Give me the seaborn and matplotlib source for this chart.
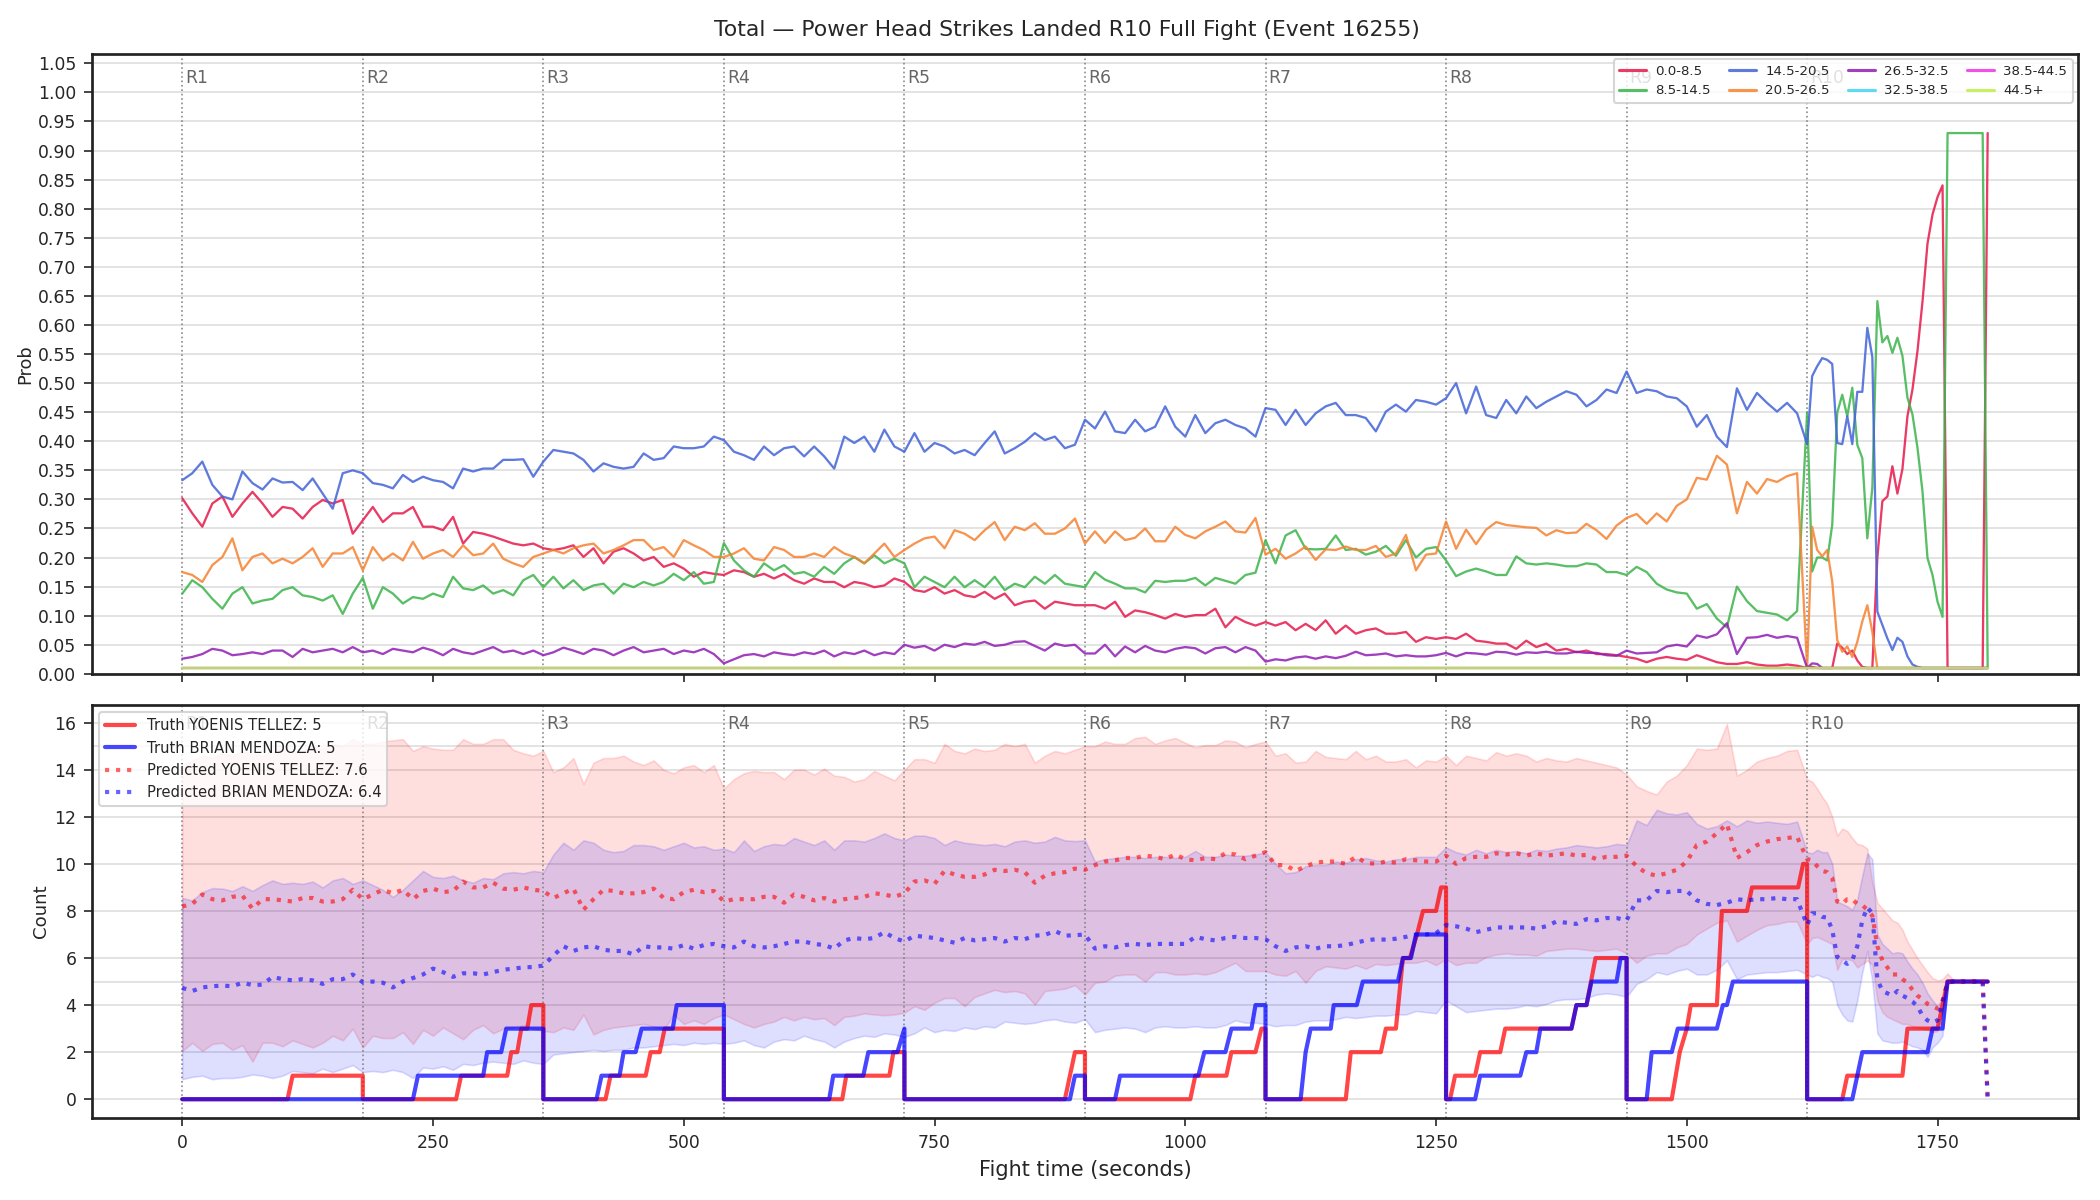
import matplotlib
matplotlib.use("Agg")
import matplotlib.pyplot as plt
import matplotlib.transforms as mtransforms
from matplotlib.lines import Line2D
import pandas as pd
import seaborn as sns

# sample times: every 10 s in rounds 1-9, every 5 s in round 10
t = list(range(0, 1620, 10)) + list(range(1620, 1801, 5))
t_flat = [0, 1800]
round_starts = [0, 180, 360, 540, 720, 900, 1080, 1260, 1440, 1620]

bins = ['0.0-8.5', '8.5-14.5', '14.5-20.5', '20.5-26.5',
        '26.5-32.5', '32.5-38.5', '38.5-44.5', '44.5+']
bin_colors = ['#e6194b', '#3cb44b', '#4363d8', '#f58231',
              '#911eb4', '#42d4f4', '#f032e6', '#bfef45']

# ---- top panel: probability of each bin over the fight ----
p_0_8 = [
    0.302, 0.276, 0.253, 0.293, 0.305, 0.270, 0.293, 0.313, 0.293, 0.270, 0.287, 0.284, 0.267, 0.287, 0.299, 0.293, 0.299, 0.241,
    0.264, 0.287, 0.261, 0.276, 0.276, 0.287, 0.253, 0.253, 0.247, 0.270, 0.224, 0.244, 0.241, 0.236, 0.230, 0.224, 0.221, 0.224,
    0.216, 0.213, 0.216, 0.221, 0.201, 0.216, 0.190, 0.210, 0.216, 0.207, 0.195, 0.201, 0.184, 0.190, 0.181, 0.167, 0.175, 0.172,
    0.170, 0.178, 0.175, 0.167, 0.172, 0.164, 0.172, 0.161, 0.155, 0.164, 0.158, 0.158, 0.149, 0.158, 0.155, 0.149, 0.152, 0.164,
    0.158, 0.144, 0.141, 0.149, 0.138, 0.144, 0.135, 0.132, 0.141, 0.129, 0.138, 0.118, 0.124, 0.126, 0.112, 0.124, 0.121, 0.118,
    0.118, 0.118, 0.112, 0.124, 0.098, 0.109, 0.106, 0.101, 0.095, 0.103, 0.098, 0.101, 0.101, 0.112, 0.080, 0.098, 0.089, 0.083,
    0.089, 0.083, 0.089, 0.075, 0.086, 0.075, 0.092, 0.069, 0.083, 0.069, 0.075, 0.078, 0.069, 0.069, 0.072, 0.055, 0.063, 0.060,
    0.063, 0.060, 0.069, 0.057, 0.055, 0.052, 0.052, 0.043, 0.057, 0.046, 0.052, 0.040, 0.043, 0.037, 0.040, 0.034, 0.034, 0.032,
    0.029, 0.026, 0.020, 0.026, 0.029, 0.026, 0.024, 0.032, 0.026, 0.020, 0.017, 0.017, 0.020, 0.016, 0.014, 0.014, 0.016, 0.014,
    0.010, 0.012, 0.010, 0.010, 0.010, 0.010, 0.052, 0.045, 0.034, 0.040, 0.023, 0.012, 0.010, 0.010, 0.200, 0.297, 0.305, 0.357,
    0.310, 0.352, 0.443, 0.489, 0.555, 0.640, 0.740, 0.790, 0.820, 0.840, 0.010, 0.010, 0.010, 0.010, 0.010, 0.010, 0.010, 0.010, 0.930,
]
p_8_14 = [
    0.138, 0.161, 0.149, 0.129, 0.112, 0.138, 0.149, 0.121, 0.126, 0.129, 0.144, 0.149, 0.135, 0.132, 0.126, 0.135, 0.103, 0.138,
    0.165, 0.112, 0.149, 0.138, 0.121, 0.132, 0.129, 0.138, 0.132, 0.167, 0.147, 0.144, 0.152, 0.138, 0.144, 0.135, 0.161, 0.170,
    0.149, 0.167, 0.147, 0.161, 0.144, 0.152, 0.155, 0.138, 0.155, 0.149, 0.158, 0.152, 0.158, 0.172, 0.161, 0.175, 0.155, 0.158,
    0.225, 0.195, 0.178, 0.167, 0.190, 0.178, 0.187, 0.172, 0.175, 0.167, 0.184, 0.172, 0.190, 0.201, 0.190, 0.204, 0.190, 0.198,
    0.190, 0.149, 0.167, 0.158, 0.149, 0.167, 0.149, 0.161, 0.149, 0.167, 0.144, 0.155, 0.149, 0.167, 0.155, 0.170, 0.155, 0.152,
    0.149, 0.175, 0.162, 0.155, 0.147, 0.147, 0.140, 0.160, 0.158, 0.160, 0.160, 0.165, 0.152, 0.165, 0.160, 0.155, 0.170, 0.174,
    0.230, 0.190, 0.238, 0.247, 0.215, 0.214, 0.215, 0.238, 0.213, 0.215, 0.205, 0.210, 0.220, 0.203, 0.230, 0.200, 0.215, 0.218,
    0.195, 0.168, 0.176, 0.181, 0.176, 0.170, 0.170, 0.202, 0.190, 0.188, 0.190, 0.188, 0.185, 0.185, 0.190, 0.188, 0.175, 0.175,
    0.170, 0.184, 0.175, 0.155, 0.145, 0.140, 0.138, 0.112, 0.120, 0.095, 0.080, 0.150, 0.125, 0.108, 0.105, 0.102, 0.092, 0.108,
    0.450, 0.176, 0.200, 0.200, 0.195, 0.256, 0.449, 0.480, 0.443, 0.492, 0.394, 0.371, 0.233, 0.320, 0.641, 0.570, 0.581, 0.552,
    0.578, 0.547, 0.475, 0.446, 0.389, 0.314, 0.199, 0.170, 0.124, 0.098, 0.930, 0.930, 0.930, 0.930, 0.930, 0.930, 0.930, 0.930, 0.010,
]
p_14_20 = [
    0.333, 0.345, 0.365, 0.325, 0.305, 0.300, 0.348, 0.328, 0.317, 0.336, 0.329, 0.330, 0.316, 0.336, 0.310, 0.284, 0.345, 0.350,
    0.345, 0.328, 0.325, 0.319, 0.342, 0.330, 0.339, 0.333, 0.330, 0.319, 0.353, 0.348, 0.353, 0.353, 0.368, 0.368, 0.369, 0.339,
    0.365, 0.385, 0.382, 0.379, 0.368, 0.348, 0.362, 0.356, 0.353, 0.356, 0.379, 0.368, 0.371, 0.391, 0.388, 0.388, 0.391, 0.408,
    0.402, 0.382, 0.376, 0.368, 0.391, 0.376, 0.388, 0.391, 0.374, 0.391, 0.374, 0.353, 0.408, 0.397, 0.408, 0.382, 0.420, 0.391,
    0.382, 0.414, 0.382, 0.397, 0.391, 0.379, 0.385, 0.376, 0.397, 0.417, 0.379, 0.388, 0.399, 0.414, 0.402, 0.408, 0.388, 0.394,
    0.437, 0.422, 0.451, 0.417, 0.414, 0.437, 0.417, 0.425, 0.460, 0.425, 0.408, 0.445, 0.414, 0.431, 0.437, 0.428, 0.422, 0.408,
    0.457, 0.454, 0.428, 0.454, 0.428, 0.448, 0.460, 0.466, 0.445, 0.445, 0.440, 0.417, 0.451, 0.463, 0.451, 0.471, 0.468, 0.463,
    0.474, 0.500, 0.448, 0.494, 0.445, 0.440, 0.471, 0.448, 0.477, 0.457, 0.468, 0.477, 0.486, 0.480, 0.460, 0.471, 0.489, 0.483,
    0.520, 0.483, 0.489, 0.486, 0.477, 0.474, 0.460, 0.425, 0.445, 0.408, 0.390, 0.491, 0.454, 0.483, 0.466, 0.451, 0.466, 0.448,
    0.395, 0.512, 0.529, 0.543, 0.540, 0.533, 0.397, 0.395, 0.443, 0.395, 0.485, 0.485, 0.595, 0.545, 0.107, 0.084, 0.061, 0.041,
    0.062, 0.055, 0.030, 0.016, 0.012, 0.010, 0.010, 0.010, 0.010, 0.010, 0.010, 0.010, 0.010, 0.010, 0.010, 0.010, 0.010, 0.010, 0.010,
]
p_20_26 = [
    0.175, 0.170, 0.158, 0.187, 0.201, 0.233, 0.178, 0.201, 0.207, 0.190, 0.198, 0.190, 0.201, 0.216, 0.184, 0.207, 0.207, 0.218,
    0.178, 0.218, 0.195, 0.207, 0.195, 0.227, 0.198, 0.207, 0.213, 0.201, 0.221, 0.204, 0.207, 0.224, 0.198, 0.190, 0.184, 0.201,
    0.207, 0.213, 0.207, 0.216, 0.221, 0.224, 0.207, 0.213, 0.221, 0.230, 0.230, 0.213, 0.218, 0.201, 0.230, 0.221, 0.213, 0.201,
    0.201, 0.207, 0.216, 0.198, 0.195, 0.218, 0.213, 0.201, 0.201, 0.207, 0.201, 0.218, 0.207, 0.201, 0.190, 0.207, 0.224, 0.201,
    0.213, 0.224, 0.233, 0.236, 0.216, 0.247, 0.241, 0.230, 0.247, 0.261, 0.230, 0.253, 0.247, 0.259, 0.241, 0.241, 0.250, 0.267,
    0.224, 0.245, 0.225, 0.245, 0.230, 0.234, 0.250, 0.228, 0.228, 0.253, 0.239, 0.233, 0.245, 0.253, 0.262, 0.245, 0.243, 0.268,
    0.205, 0.215, 0.198, 0.207, 0.219, 0.196, 0.214, 0.213, 0.219, 0.213, 0.213, 0.220, 0.201, 0.207, 0.239, 0.178, 0.205, 0.207,
    0.262, 0.215, 0.248, 0.223, 0.248, 0.261, 0.256, 0.254, 0.252, 0.251, 0.238, 0.247, 0.242, 0.243, 0.258, 0.247, 0.232, 0.255,
    0.268, 0.275, 0.258, 0.276, 0.262, 0.289, 0.300, 0.337, 0.334, 0.375, 0.360, 0.276, 0.330, 0.310, 0.335, 0.330, 0.340, 0.345,
    0.010, 0.253, 0.213, 0.202, 0.213, 0.159, 0.058, 0.038, 0.047, 0.029, 0.055, 0.090, 0.118, 0.072, 0.010, 0.010, 0.010, 0.010,
    0.010, 0.010, 0.010, 0.010, 0.010, 0.010, 0.010, 0.010, 0.010, 0.010, 0.010, 0.010, 0.010, 0.010, 0.010, 0.010, 0.010, 0.010, 0.010,
]
p_26_32 = [
    0.026, 0.029, 0.034, 0.043, 0.040, 0.032, 0.034, 0.037, 0.034, 0.040, 0.040, 0.029, 0.043, 0.037, 0.040, 0.043, 0.037, 0.046,
    0.037, 0.040, 0.034, 0.043, 0.040, 0.037, 0.045, 0.040, 0.032, 0.043, 0.037, 0.034, 0.040, 0.046, 0.037, 0.040, 0.034, 0.040,
    0.032, 0.037, 0.045, 0.040, 0.034, 0.043, 0.040, 0.032, 0.040, 0.046, 0.037, 0.040, 0.043, 0.034, 0.040, 0.037, 0.043, 0.034,
    0.018, 0.025, 0.032, 0.034, 0.030, 0.037, 0.034, 0.032, 0.037, 0.034, 0.040, 0.030, 0.037, 0.034, 0.040, 0.032, 0.037, 0.034,
    0.050, 0.045, 0.048, 0.040, 0.050, 0.046, 0.052, 0.050, 0.055, 0.048, 0.050, 0.055, 0.056, 0.048, 0.040, 0.052, 0.048, 0.050,
    0.035, 0.035, 0.050, 0.030, 0.047, 0.037, 0.048, 0.040, 0.037, 0.043, 0.046, 0.044, 0.035, 0.044, 0.046, 0.037, 0.046, 0.040,
    0.021, 0.025, 0.023, 0.028, 0.030, 0.026, 0.030, 0.027, 0.031, 0.038, 0.032, 0.033, 0.035, 0.030, 0.032, 0.030, 0.030, 0.032,
    0.036, 0.030, 0.036, 0.035, 0.033, 0.038, 0.037, 0.033, 0.037, 0.036, 0.038, 0.035, 0.035, 0.038, 0.036, 0.036, 0.032, 0.031,
    0.040, 0.035, 0.036, 0.037, 0.047, 0.050, 0.047, 0.066, 0.062, 0.068, 0.087, 0.034, 0.062, 0.063, 0.067, 0.062, 0.065, 0.062,
    0.010, 0.018, 0.017, 0.010, 0.010, 0.010, 0.010, 0.010, 0.010, 0.010, 0.010, 0.010, 0.010, 0.010, 0.010, 0.010, 0.010, 0.010,
    0.010, 0.010, 0.010, 0.010, 0.010, 0.010, 0.010, 0.010, 0.010, 0.010, 0.010, 0.010, 0.010, 0.010, 0.010, 0.010, 0.010, 0.010, 0.010,
]
# the three highest bins stay flat near zero for the whole fight
p_32_38 = [0.010, 0.010]
p_38_44 = [0.010, 0.010]
p_44_up = [0.010, 0.010]

# ---- bottom panel: predicted counts with bands, and the truth ----
pred_yoenis = [
    8.19, 8.30, 8.70, 8.50, 8.45, 8.60, 8.65, 8.10, 8.50, 8.50, 8.45, 8.40, 8.55, 8.55, 8.40, 8.40, 8.50, 8.90,
    8.50, 8.70, 8.90, 8.75, 8.90, 8.50, 8.85, 8.95, 8.80, 8.85, 9.25, 9.00, 9.00, 9.20, 8.95, 8.90, 9.00, 8.90,
    8.85, 8.55, 8.75, 8.95, 8.05, 8.50, 8.90, 8.85, 8.75, 8.75, 8.80, 8.95, 8.55, 8.50, 8.80, 8.90, 8.80, 8.85,
    8.40, 8.50, 8.50, 8.50, 8.60, 8.60, 8.35, 8.70, 8.60, 8.45, 8.55, 8.40, 8.50, 8.55, 8.60, 8.75, 8.70, 8.60,
    8.75, 9.25, 9.30, 9.15, 9.70, 9.55, 9.45, 9.45, 9.55, 9.75, 9.70, 9.75, 9.65, 9.20, 9.50, 9.60, 9.65, 9.80,
    9.75, 9.95, 10.10, 10.15, 10.25, 10.25, 10.35, 10.30, 10.20, 10.40, 10.20, 10.15, 10.25, 10.20, 10.45, 10.40, 10.20, 10.35,
    10.50, 9.95, 9.95, 9.70, 9.90, 10.05, 10.10, 10.10, 10.00, 10.30, 10.05, 10.00, 10.10, 10.05, 10.20, 10.15, 10.10, 10.10,
    10.35, 10.00, 10.25, 10.30, 10.30, 10.45, 10.40, 10.45, 10.35, 10.45, 10.35, 10.40, 10.45, 10.35, 10.38, 10.20, 10.30, 10.30,
    10.35, 9.90, 9.60, 9.50, 9.60, 9.75, 10.10, 10.80, 10.95, 11.30, 11.70, 10.25, 10.50, 10.80, 10.95, 11.05, 11.10, 11.15,
    10.20, 10.15, 9.90, 9.70, 9.65, 9.40, 8.40, 8.30, 8.50, 8.50, 8.30, 8.25, 8.05, 7.80, 6.50, 5.90, 5.60, 5.30,
    5.30, 5.10, 4.95, 4.65, 4.40, 4.25, 4.05, 3.95, 3.85, 4.20, 4.97, 5.00, 5.00, 5.00, 5.00, 5.00, 5.00, 5.00, 0.00,
]
pred_brian = [
    4.73, 4.60, 4.75, 4.80, 4.83, 4.80, 4.95, 4.85, 4.87, 5.20, 5.10, 5.05, 5.10, 5.05, 4.90, 5.10, 5.10, 5.30,
    4.97, 5.00, 4.95, 4.75, 5.00, 5.15, 5.30, 5.55, 5.40, 5.20, 5.35, 5.35, 5.30, 5.40, 5.50, 5.55, 5.60, 5.62,
    5.68, 6.10, 6.50, 6.30, 6.45, 6.50, 6.35, 6.30, 6.30, 6.15, 6.50, 6.45, 6.45, 6.40, 6.55, 6.40, 6.55, 6.60,
    6.50, 6.45, 6.70, 6.50, 6.45, 6.50, 6.60, 6.70, 6.70, 6.60, 6.55, 6.40, 6.75, 6.85, 6.80, 6.85, 7.10, 6.85,
    6.70, 6.95, 6.90, 6.85, 6.75, 6.65, 6.85, 6.75, 6.80, 6.85, 6.70, 6.85, 6.80, 6.95, 6.98, 7.15, 6.95, 6.97,
    7.00, 6.40, 6.50, 6.45, 6.55, 6.60, 6.55, 6.60, 6.60, 6.60, 6.60, 6.90, 6.80, 6.75, 6.85, 6.90, 6.85, 6.85,
    6.80, 6.50, 6.30, 6.45, 6.50, 6.40, 6.50, 6.50, 6.55, 6.65, 6.75, 6.80, 6.78, 6.82, 6.90, 7.00, 7.00, 7.05,
    7.40, 7.35, 7.25, 7.10, 7.20, 7.30, 7.30, 7.30, 7.30, 7.25, 7.35, 7.55, 7.50, 7.45, 7.65, 7.60, 7.70, 7.70,
    7.60, 8.45, 8.45, 8.85, 8.80, 8.85, 8.85, 8.45, 8.30, 8.25, 8.35, 8.50, 8.45, 8.50, 8.50, 8.55, 8.50, 8.50,
    7.40, 7.90, 7.90, 7.75, 7.72, 7.20, 6.05, 5.90, 5.75, 5.90, 6.50, 7.60, 8.15, 7.90, 5.10, 4.60, 4.50, 4.40,
    4.60, 4.40, 4.30, 4.15, 3.95, 3.55, 3.35, 3.25, 3.35, 4.10, 4.95, 5.00, 5.00, 5.00, 5.00, 5.00, 5.00, 5.00, 0.00,
]
hi_yoenis = [
    14.20, 14.40, 14.60, 14.50, 14.70, 14.60, 14.80, 14.70, 14.60, 14.80, 14.90, 14.70, 14.80, 15.00, 14.90, 15.10, 15.00, 15.30,
    15.10, 15.10, 15.20, 15.25, 15.30, 14.80, 15.00, 14.90, 14.85, 14.85, 15.30, 15.10, 15.10, 15.30, 15.30, 14.85, 14.70, 14.60,
    14.80, 13.90, 14.10, 14.50, 13.40, 14.30, 14.50, 14.50, 14.60, 14.35, 14.20, 14.40, 14.00, 13.85, 14.10, 14.20, 13.90, 14.20,
    13.20, 13.60, 13.85, 13.95, 13.90, 13.90, 13.60, 14.00, 14.00, 13.80, 14.05, 13.75, 13.70, 13.50, 13.60, 13.95, 13.75, 13.55,
    14.00, 14.45, 14.45, 14.30, 15.10, 14.80, 14.70, 14.90, 14.80, 14.85, 15.10, 15.00, 15.10, 14.30, 14.60, 14.80, 14.70, 14.85,
    15.00, 15.00, 15.20, 15.10, 15.10, 15.35, 15.40, 15.10, 15.25, 15.35, 15.15, 14.95, 15.05, 15.05, 15.25, 15.20, 14.95, 15.10,
    15.20, 14.60, 14.70, 14.30, 14.35, 14.80, 14.55, 14.50, 14.45, 14.80, 14.45, 14.60, 14.35, 14.35, 14.45, 14.10, 14.40, 14.35,
    14.60, 14.20, 14.60, 14.50, 14.40, 14.75, 14.60, 14.70, 14.60, 14.35, 14.50, 14.40, 14.35, 14.50, 14.40, 14.30, 14.20, 14.10,
    13.80, 13.30, 13.10, 12.95, 13.50, 13.75, 14.20, 14.90, 14.85, 14.90, 15.95, 13.75, 14.00, 14.35, 14.50, 14.60, 14.80, 14.85,
    13.60, 13.50, 13.20, 12.85, 12.55, 12.00, 11.20, 11.50, 11.40, 11.10, 10.85, 10.80, 10.65, 9.20, 8.35, 8.10, 7.85, 7.60,
    7.50, 7.20, 6.70, 6.35, 6.00, 5.70, 5.40, 5.15, 5.05, 5.10, 5.35, 5.10, 5.05, 5.02, 5.00, 5.00, 5.00, 5.00, 5.00,
]
lo_yoenis = [
    2.05, 2.40, 2.05, 2.35, 2.40, 2.10, 2.30, 1.60, 2.40, 2.40, 2.25, 2.50, 2.35, 2.20, 2.40, 2.70, 2.50, 3.00,
    2.20, 2.70, 2.60, 2.60, 2.85, 2.35, 2.95, 2.70, 3.05, 2.80, 2.55, 2.95, 3.15, 2.80, 3.00, 3.05, 3.15, 3.00,
    2.90, 2.85, 3.05, 2.95, 3.60, 2.75, 2.95, 3.05, 3.10, 3.15, 3.20, 3.10, 2.95, 3.60, 3.20, 3.35, 3.20, 3.45,
    3.60, 3.40, 3.20, 3.05, 3.20, 3.30, 3.50, 3.35, 3.50, 3.40, 3.45, 3.15, 3.50, 3.55, 3.65, 3.60, 3.57, 3.60,
    3.68, 3.95, 3.80, 4.10, 4.30, 4.30, 3.95, 4.35, 4.50, 4.65, 4.55, 4.60, 4.50, 4.02, 4.60, 4.65, 4.70, 4.85,
    4.45, 4.95, 5.00, 5.25, 5.30, 5.30, 5.00, 5.40, 5.40, 5.30, 5.30, 5.35, 5.30, 5.40, 5.60, 5.80, 5.45, 5.45,
    5.45, 5.30, 5.25, 5.45, 4.95, 5.45, 5.65, 5.60, 5.55, 5.70, 5.55, 5.75, 5.70, 5.75, 5.80, 5.80, 5.90, 5.70,
    5.95, 5.70, 5.80, 5.80, 6.05, 6.15, 6.20, 6.15, 6.15, 6.10, 6.30, 6.35, 6.40, 6.40, 6.35, 6.30, 6.35, 6.40,
    6.20, 5.80, 6.10, 6.20, 6.20, 6.45, 6.60, 7.00, 7.25, 7.50, 7.60, 6.70, 6.95, 7.20, 7.40, 7.45, 7.55, 7.55,
    6.60, 6.85, 6.90, 6.80, 6.70, 6.60, 5.50, 5.95, 5.95, 5.90, 5.60, 5.75, 5.90, 5.70, 4.20, 3.70, 3.50, 3.40,
    3.30, 3.20, 3.20, 3.10, 3.05, 3.00, 2.95, 2.85, 2.90, 3.80, 4.95, 5.00, 5.00, 5.00, 5.00, 5.00, 5.00, 5.00, 5.00,
]
hi_brian = [
    8.55, 8.45, 8.80, 8.97, 8.95, 8.85, 9.05, 8.85, 9.10, 9.30, 9.15, 9.20, 9.15, 9.25, 9.00, 9.30, 9.40, 9.15,
    9.30, 9.10, 8.90, 8.60, 8.90, 9.30, 9.70, 9.45, 9.40, 9.50, 9.30, 9.20, 9.40, 9.35, 9.60, 9.65, 9.60, 9.70,
    9.65, 10.40, 10.90, 10.60, 11.00, 10.90, 10.60, 10.50, 10.55, 10.80, 10.80, 10.75, 10.60, 10.75, 10.90, 10.70, 10.75, 10.60,
    10.65, 10.50, 11.00, 10.55, 10.75, 10.85, 10.80, 11.10, 10.95, 10.80, 11.00, 10.60, 11.00, 11.00, 10.95, 11.10, 11.30, 11.10,
    11.00, 11.20, 11.20, 11.10, 10.80, 11.00, 10.90, 10.85, 10.80, 10.85, 10.75, 10.95, 11.00, 10.90, 10.95, 11.15, 11.00, 10.97,
    11.00, 10.10, 10.20, 10.25, 10.30, 10.30, 10.25, 10.30, 10.30, 10.25, 10.30, 10.55, 10.30, 10.30, 10.40, 10.35, 10.35, 10.40,
    10.50, 10.00, 9.60, 9.65, 9.90, 9.95, 9.95, 10.10, 10.05, 10.20, 10.25, 10.15, 10.10, 10.20, 10.20, 10.30, 10.30, 10.30,
    10.70, 10.50, 10.40, 10.60, 10.45, 10.60, 10.50, 10.55, 10.45, 10.60, 10.55, 10.65, 10.70, 10.80, 10.75, 10.70, 10.75, 10.85,
    10.80, 11.85, 11.65, 12.30, 12.15, 12.10, 12.20, 11.70, 11.50, 11.60, 11.85, 11.60, 11.85, 11.75, 11.80, 11.75, 11.70, 11.80,
    10.50, 10.45, 10.60, 10.50, 10.50, 10.00, 8.40, 8.30, 8.20, 8.05, 8.50, 9.50, 10.45, 10.20, 7.00, 6.60, 6.40, 6.20,
    6.25, 6.20, 5.85, 5.55, 5.30, 4.95, 4.50, 4.20, 3.95, 4.30, 4.95, 5.00, 5.00, 5.00, 5.00, 5.00, 5.00, 5.00, 5.00,
]
lo_brian = [
    0.85, 0.95, 1.00, 0.85, 0.90, 0.90, 0.95, 1.05, 1.00, 0.90, 1.00, 1.20, 1.15, 1.10, 1.30, 1.15, 1.30, 1.45,
    1.15, 1.20, 1.15, 1.25, 1.15, 0.90, 1.35, 1.30, 1.40, 1.25, 1.50, 1.45, 1.55, 1.60, 1.55, 1.50, 1.65, 1.55,
    1.50, 1.90, 1.95, 2.00, 2.05, 2.10, 2.05, 2.10, 2.10, 2.20, 2.20, 2.25, 2.30, 2.35, 2.30, 2.40, 2.35, 2.40,
    2.35, 2.40, 2.50, 2.30, 2.20, 2.45, 2.55, 2.50, 2.70, 2.55, 2.45, 2.20, 2.45, 2.60, 2.70, 2.65, 2.80, 2.75,
    2.65, 2.80, 3.05, 2.85, 2.95, 2.90, 3.05, 2.98, 3.10, 3.05, 3.30, 3.25, 3.20, 3.25, 3.35, 3.40, 3.30, 3.25,
    3.40, 2.85, 2.95, 3.00, 3.05, 3.00, 2.85, 3.05, 3.10, 3.05, 3.05, 3.10, 3.05, 3.05, 3.15, 3.35, 3.25, 3.25,
    3.20, 3.10, 3.15, 3.15, 3.30, 3.35, 3.35, 3.40, 3.50, 3.45, 3.50, 3.55, 3.55, 3.60, 3.60, 3.75, 3.70, 3.65,
    4.20, 3.95, 3.70, 3.75, 3.80, 3.85, 3.85, 3.90, 4.00, 3.95, 4.05, 4.20, 4.25, 4.25, 4.30, 4.45, 4.50, 4.45,
    4.35, 4.90, 5.10, 5.40, 5.30, 5.45, 5.55, 5.30, 5.30, 5.50, 5.90, 5.10, 5.30, 5.35, 5.40, 5.40, 5.45, 5.50,
    5.30, 5.20, 5.30, 5.20, 5.15, 5.00, 4.00, 3.60, 3.35, 3.30, 4.20, 5.40, 6.30, 5.00, 2.80, 2.50, 2.45, 2.40,
    2.40, 2.45, 2.35, 2.25, 2.20, 2.10, 1.80, 2.20, 2.40, 2.70, 4.90, 5.00, 5.00, 5.00, 5.00, 5.00, 5.00, 5.00, 5.00,
]

# truth: strikes landed so far in the current round (vertices, resets each round)
truth_yoenis_t = [0, 105, 110, 180, 180,
                  273, 278, 324, 328, 334, 338, 344, 348, 360, 360,
                  422, 427, 462, 467, 476, 481, 540, 540,
                  658, 662, 705, 709, 720, 720,
                  880, 890, 900, 900,
                  1005, 1010, 1041, 1046, 1070, 1076, 1080, 1080,
                  1160, 1165, 1195, 1200, 1210, 1217, 1224, 1231, 1237, 1250, 1255, 1260, 1260,
                  1264, 1269, 1289, 1294, 1314, 1319, 1385, 1390, 1400, 1409, 1440, 1440,
                  1485, 1493, 1500, 1504, 1530, 1535, 1560, 1565, 1611, 1616, 1620, 1620,
                  1655, 1660, 1715, 1720, 1750, 1760, 1800]
truth_yoenis = [0, 0, 1, 1, 0,
                0, 1, 1, 2, 2, 3, 3, 4, 4, 0,
                0, 1, 1, 2, 2, 3, 3, 0,
                0, 1, 1, 2, 2, 0,
                0, 2, 2, 0,
                0, 1, 1, 2, 2, 3, 3, 0,
                0, 2, 2, 3, 3, 6, 6, 7, 8, 8, 9, 9, 0,
                0, 1, 1, 2, 2, 3, 3, 4, 4, 6, 6, 0,
                0, 2, 3, 4, 4, 8, 8, 9, 9, 10, 10, 0,
                0, 1, 1, 3, 3, 5, 5]
truth_brian_t = [0, 180,
                 230, 235, 300, 304, 318, 323, 360, 360,
                 413, 418, 436, 440, 452, 458, 489, 493, 540, 540,
                 645, 649, 679, 684, 713, 720, 720,
                 885, 890, 900, 900,
                 930, 935, 1013, 1019, 1040, 1046, 1066, 1070, 1080, 1080,
                 1115, 1120, 1125, 1145, 1148, 1171, 1177, 1212, 1217, 1225, 1230, 1260, 1260,
                 1289, 1294, 1334, 1340, 1350, 1354, 1385, 1390, 1400, 1405, 1430, 1434, 1440, 1440,
                 1460, 1465, 1485, 1491, 1530, 1536, 1540, 1546, 1620, 1620,
                 1665, 1675, 1740, 1745, 1755, 1760, 1800]
truth_brian = [0, 0,
               0, 1, 1, 2, 2, 3, 3, 0,
               0, 1, 1, 2, 2, 3, 3, 4, 4, 0,
               0, 1, 1, 2, 2, 3, 0,
               0, 1, 1, 0,
               0, 1, 1, 2, 2, 3, 3, 4, 4, 0,
               0, 2, 3, 3, 4, 4, 5, 5, 6, 6, 7, 7, 0,
               0, 1, 1, 2, 2, 3, 3, 4, 4, 5, 5, 6, 6, 0,
               0, 2, 2, 3, 3, 4, 4, 5, 5, 0,
               0, 2, 2, 3, 3, 5, 5]

final_yoenis, final_brian = 5, 5
pred_final_yoenis, pred_final_brian = 7.6, 6.4

# long-form frame for the bin probabilities
frames = []
for name, vals in zip(bins[:5], [p_0_8, p_8_14, p_14_20, p_20_26, p_26_32]):
    frames.append(pd.DataFrame({'time': t, 'prob': vals, 'bin': name}))
for name, vals in zip(bins[5:], [p_32_38, p_38_44, p_44_up]):
    frames.append(pd.DataFrame({'time': t_flat, 'prob': vals, 'bin': name}))
probs = pd.concat(frames, ignore_index=True)

sns.set_style("ticks")
grid_c = '#dedede'

fig = plt.figure(figsize=(14, 8), dpi=150)
gs = fig.add_gridspec(2, 1, height_ratios=[3, 2], hspace=0.06,
                      left=0.0438, right=0.9895, top=0.955, bottom=0.0683)
ax1 = fig.add_subplot(gs[0])
ax2 = fig.add_subplot(gs[1], sharex=ax1)

# top panel
sns.lineplot(data=probs, x='time', y='prob', hue='bin', hue_order=bins,
             palette=bin_colors, estimator=None, sort=False,
             linewidth=1.1, alpha=0.85, legend=False, ax=ax1)
handles = [Line2D([], [], color=c, lw=1.5, alpha=0.85) for c in bin_colors]
ax1.legend(handles, bins, ncol=4, loc='upper right', fontsize=6.4,
           handlelength=2.0, columnspacing=1.4, handletextpad=0.7, borderaxespad=0.4)
ax1.set_ylim(0, 1.066)
ax1.set_yticks([i * 0.05 for i in range(22)])
ax1.yaxis.set_major_formatter(matplotlib.ticker.FormatStrFormatter('%.2f'))
ax1.set_ylabel('Prob', fontsize=8.5, labelpad=2)
ax1.set_xlabel('')
ax1.tick_params(labelbottom=False)

# bottom panel
ax2.fill_between(t, lo_yoenis, hi_yoenis, color='red', alpha=0.13, linewidth=0.8)
ax2.fill_between(t, lo_brian, hi_brian, color='blue', alpha=0.13, linewidth=0.8)
sns.lineplot(x=truth_yoenis_t, y=truth_yoenis, color='red', alpha=0.72, linewidth=2.0,
             estimator=None, sort=False, ax=ax2)
sns.lineplot(x=truth_brian_t, y=truth_brian, color='blue', alpha=0.72, linewidth=2.0,
             estimator=None, sort=False, ax=ax2)
sns.lineplot(x=t, y=pred_yoenis, color='red', alpha=0.6, linewidth=2.0, linestyle=':',
             estimator=None, sort=False, ax=ax2)
sns.lineplot(x=t, y=pred_brian, color='blue', alpha=0.6, linewidth=2.0, linestyle=':',
             estimator=None, sort=False, ax=ax2)
ax2.axhline(5, color=grid_c, lw=0.8, zorder=0)
ax2.axhline(15, color=grid_c, lw=0.8, zorder=0)
ax2.set_ylim(-0.8, 16.76)
ax2.set_yticks(range(0, 17, 2))
ax2.set_ylabel('Count', fontsize=8.7, labelpad=2)
ax2.set_xlabel('Fight time (seconds)', fontsize=10)
leg_handles = [Line2D([], [], color='red', alpha=0.72, lw=2),
               Line2D([], [], color='blue', alpha=0.72, lw=2),
               Line2D([], [], color='red', alpha=0.6, lw=2, ls=':'),
               Line2D([], [], color='blue', alpha=0.6, lw=2, ls=':')]
leg_labels = [f'Truth YOENIS TELLEZ: {final_yoenis}',
              f'Truth BRIAN MENDOZA: {final_brian}',
              f'Predicted YOENIS TELLEZ: {pred_final_yoenis}',
              f'Predicted BRIAN MENDOZA: {pred_final_brian}']

for ax in (ax1, ax2):
    ax.grid(axis='y', color=grid_c, lw=0.8)
    ax.set_axisbelow(True)
    trans = mtransforms.blended_transform_factory(ax.transData, ax.transAxes)
    for i, r in enumerate(round_starts):
        ax.axvline(r, color='#777777', ls=':', lw=0.8, alpha=0.85, zorder=1)
        ax.text(r + 3, 0.975, f'R{i + 1}', transform=trans, va='top', ha='left',
                fontsize=8.3, color='#666666')
    ax.tick_params(labelsize=8.3, length=4)
    for s in ax.spines.values():
        s.set_linewidth(1.3)
        s.set_color('#222222')

ax2.legend(leg_handles, leg_labels, loc='upper left', fontsize=7.1)
ax1.set_xlim(-90, 1890)
ax2.set_xticks([0, 250, 500, 750, 1000, 1250, 1500, 1750])

fig.suptitle('Total \u2014 Power Head Strikes Landed R10 Full Fight (Event 16255)',
             x=0.508, y=0.983, fontsize=10.5)

fig.savefig('out.png', dpi=150)
